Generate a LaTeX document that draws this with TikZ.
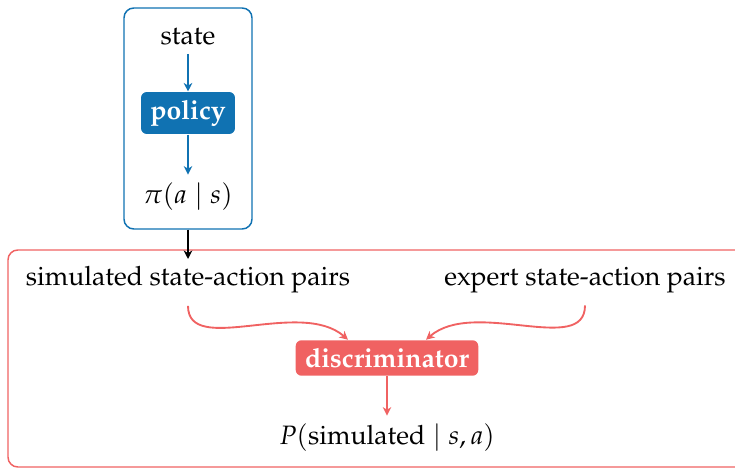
\documentclass[tikz,border=0pt]{standalone}
\usepackage{amsmath,amssymb}
\usepackage[T1]{fontenc}
\usepackage{mathpazo}
\usepackage{xcolor}
\usepackage{tikz}
\usetikzlibrary{arrows.meta,positioning,calc,fit}
\definecolor{polblue}{RGB}{16,114,178}
\definecolor{discred}{RGB}{240,98,98}
\tikzset{
  >={Stealth[length=3.2pt,width=3.2pt,inset=1pt]},
  txt/.style   ={inner sep=3pt, font=\normalsize},
  blk/.style   ={rectangle, rounded corners=2.2pt, fill=#1, text=white,
                 inner xsep=3.5pt, inner ysep=3pt, font=\normalsize\bfseries},
  frame/.style ={rectangle, rounded corners=3.7pt, draw=#1, line width=0.55pt,
                 inner sep=0pt},
  pcon/.style  ={->, draw=polblue, line width=0.7pt},
  dcon/.style  ={->, draw=discred, line width=0.7pt},
  hand/.style  ={->, draw=black, line width=0.7pt},
}

\begin{document}
\begin{tikzpicture}[x=0.376pt,y=-0.376pt]
\clip (0,0) rectangle (735,470);
% policy part
\node[txt] (state)  at (188,37)  {state};
\node[blk=polblue] (policy) at (188,113) {policy};
\node[txt] (pi)     at (188,197) {$\pi(a\mid s)$};
\coordinate (pnw) at (124,8);
\coordinate (pse) at (252,229);
\node[frame=polblue, fit=(pnw)(pse)] (pframe) {};
\draw[pcon] (state) -- (policy);
\draw[pcon] (policy) -- (pi);
% discriminator part
\coordinate (dnw) at (8,250);
\coordinate (dse) at (760,467);
\node[frame=discred, fit=(dnw)(dse)] (dframe) {};
\coordinate (drop) at (188,259);
\draw[hand] (pframe.south) -- (drop);
\node[txt] (sim)  at (188,280) {simulated state-action pairs};
\node[txt] (expt) at (585,280) {expert state-action pairs};
\node[blk=discred] (disc) at (387,358) {discriminator};
\node[txt] (prob) at (387,438) {$P(\text{simulated}\mid s,a)$};
\coordinate (simin) at ($(disc.north)+(-39,0)$);
\coordinate (expin) at ($(disc.north)+(39,0)$);
\draw[dcon, shorten <=1.5pt] (sim.south) .. controls ++(0,55) and (300,298) .. (simin);
\draw[dcon, shorten <=1.5pt] (expt.south) .. controls ++(0,55) and (474,298) .. (expin);
\draw[dcon] (disc) -- (prob);
\end{tikzpicture}
\end{document}
